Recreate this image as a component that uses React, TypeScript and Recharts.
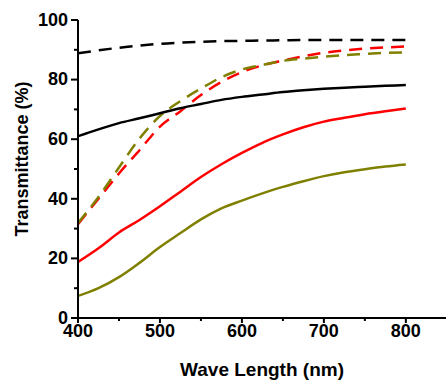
import React from 'react';
import { LineChart, Line, XAxis, YAxis } from 'recharts';

const wavelengths = [400, 425, 450, 475, 500, 525, 550, 575, 600, 625, 650, 675, 700, 725, 750, 775, 800];
const blackDashed = [88.8, 89.8, 90.7, 91.4, 92.0, 92.4, 92.7, 92.9, 93.0, 93.1, 93.2, 93.3, 93.3, 93.3, 93.3, 93.3, 93.3];
const redDashed = [31.5, 40.0, 48.5, 56.3, 64.2, 69.4, 74.8, 79.2, 82.5, 84.8, 86.4, 87.8, 89.0, 89.8, 90.4, 90.8, 91.1];
const oliveDashed = [31.9, 40.6, 50.5, 60.2, 67.8, 72.8, 77.0, 80.8, 83.4, 84.9, 86.3, 87.0, 87.7, 88.2, 88.6, 89.0, 89.1];
const blackSolid = [61.0, 63.3, 65.4, 67.0, 68.7, 70.4, 71.8, 73.2, 74.2, 75.0, 75.8, 76.4, 76.9, 77.3, 77.6, 77.9, 78.2];
const redSolid = [18.8, 23.4, 28.7, 32.9, 37.5, 42.4, 47.3, 51.6, 55.4, 58.8, 61.6, 64.0, 65.9, 67.2, 68.4, 69.4, 70.3];
const oliveSolid = [7.4, 10.0, 13.7, 18.5, 23.8, 28.5, 33.1, 36.8, 39.4, 41.8, 44.0, 45.9, 47.6, 48.9, 49.9, 50.8, 51.5];

const xTicks = [400, 450, 500, 550, 600, 650, 700, 750, 800];
const yTicks = [0, 10, 20, 30, 40, 50, 60, 70, 80, 90, 100];
const xTitle = 'Wave Length (nm)';
const yTitle = 'Transmittance (%)';

const data = wavelengths.map((w, i) => ({
  w,
  bd: blackDashed[i],
  rd: redDashed[i],
  od: oliveDashed[i],
  bs: blackSolid[i],
  rs: redSolid[i],
  os: oliveSolid[i],
}));

const FONT = '"Liberation Sans", Arial, sans-serif';
const OLIVE = '#808000';

const XTick = (props: any) => {
  const { x, y, payload } = props;
  const major = payload.value % 100 === 0;
  return (
    <g>
      <line x1={x} x2={x} y1={y} y2={y + (major ? 5 : 3)} stroke="#000" strokeWidth={2} />
      {major && (
        <text x={x} y={y + 19.3} textAnchor="middle" fontSize={18} fontWeight="bold" fontFamily={FONT} fill="#000">
          {payload.value}
        </text>
      )}
    </g>
  );
};

const YTick = (props: any) => {
  const { x, y, payload } = props;
  const major = payload.value % 20 === 0;
  return (
    <g>
      <line x1={x} x2={x - (major ? 7 : 4)} y1={y} y2={y} stroke="#000" strokeWidth={2} />
      {major && (
        <text x={x - 10} y={y + 5.8} textAnchor="end" fontSize={18} fontWeight="bold" fontFamily={FONT} fill="#000">
          {payload.value}
        </text>
      )}
    </g>
  );
};

export default function App() {
  return (
    <div style={{ position: 'absolute', left: 0, top: 0, background: '#fff' }}>
      <LineChart width={446} height={382} data={data} margin={{ top: 20, right: 0, bottom: 0, left: 0 }}>
        <XAxis
          dataKey="w"
          type="number"
          domain={[400, 849]}
          ticks={xTicks}
          allowDataOverflow
          interval={0}
          height={64}
          tickSize={0}
          tickMargin={0}
          tickLine={false}
          axisLine={{ stroke: '#000', strokeWidth: 2 }}
          tick={<XTick />}
          label={{
            content: () => (
              <text x={262} y={376} textAnchor="middle" fontSize={19} fontWeight="bold" fontFamily={FONT} fill="#000">
                {xTitle}
              </text>
            ),
          }}
        />
        <YAxis
          type="number"
          domain={[0, 100]}
          ticks={yTicks}
          interval={0}
          width={78}
          tickSize={0}
          tickMargin={0}
          tickLine={false}
          axisLine={{ stroke: '#000', strokeWidth: 2 }}
          tick={<YTick />}
          label={{
            content: () => (
              <text
                x={28}
                y={159}
                transform="rotate(-90 28 159)"
                textAnchor="middle"
                fontSize={18}
                fontWeight="bold"
                fontFamily={FONT}
                fill="#000"
              >
                {yTitle}
              </text>
            ),
          }}
        />
        <Line dataKey="bd" stroke="#000" strokeWidth={2.5} strokeDasharray="13 8" dot={false} type="monotone" isAnimationActive={false} />
        <Line dataKey="rd" stroke="#ff0000" strokeWidth={2.5} strokeDasharray="13 8" dot={false} type="monotone" isAnimationActive={false} />
        <Line dataKey="od" stroke={OLIVE} strokeWidth={2.5} strokeDasharray="13 8" dot={false} type="monotone" isAnimationActive={false} />
        <Line dataKey="bs" stroke="#000" strokeWidth={2.5} dot={false} type="monotone" isAnimationActive={false} />
        <Line dataKey="rs" stroke="#ff0000" strokeWidth={2.5} dot={false} type="monotone" isAnimationActive={false} />
        <Line dataKey="os" stroke={OLIVE} strokeWidth={2.5} dot={false} type="monotone" isAnimationActive={false} />
      </LineChart>
    </div>
  );
}
